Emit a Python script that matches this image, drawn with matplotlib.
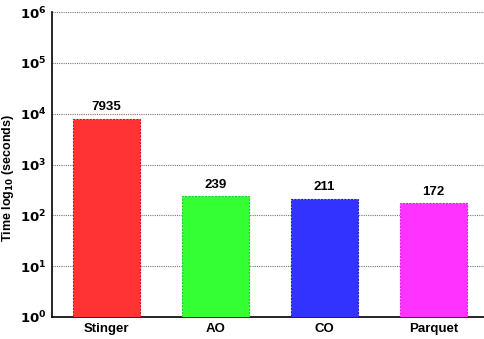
import matplotlib
matplotlib.use("Agg")
import matplotlib.pyplot as plt

systems = ["Stinger", "AO", "CO", "Parquet"]
times = [7935, 239, 211, 172]
colors = ["#ff3333", "#33ff33", "#3333ff", "#ff33ff"]
edges = ["#e01010", "#20d020", "#2020d0", "#e020e0"]

plt.rcParams["font.family"] = ["Liberation Sans", "DejaVu Sans"]
plt.rcParams["font.weight"] = "bold"

fig = plt.figure(figsize=(4.85, 3.39), dpi=100)
ax = fig.add_axes([52 / 485, 22 / 339, 433 / 485, 305 / 339])

x = range(len(systems))
bars = ax.bar(x, times, width=0.61, color=colors, edgecolor=edges,
              linewidth=0.8, linestyle=(0, (2, 1)), zorder=3)
for xi, v in zip(x, times):
    ax.annotate(f"{v}", (xi, v), xytext=(0, 4), textcoords="offset points",
                ha="center", va="bottom", fontsize=9.5, fontweight="bold")

ax.set_yscale("log")
ax.set_ylim(1, 1e6)
ax.set_xlim(-0.5, 3.47)
ax.set_yticks([10 ** i for i in range(7)])
ax.set_yticklabels([f"$\\mathbf{{10^{{{i}}}}}$" for i in range(7)])
ax.minorticks_off()
ax.set_xticks(list(x))
ax.set_xticklabels(systems, fontsize=9.5, fontweight="bold")
ax.tick_params(axis="both", length=0, labelsize=9.5, pad=4)
ax.grid(axis="y", linestyle=(0, (1, 1)), color="#777777", linewidth=0.8, zorder=0)
ax.set_ylabel("Time log$_{\\mathbf{10}}$ (seconds)", fontsize=9, fontweight="bold")
ax.yaxis.set_label_coords(-0.082, 0.455)

for s in ["top", "right"]:
    ax.spines[s].set_visible(False)
ax.spines["left"].set_linewidth(1.2)
ax.spines["bottom"].set_linewidth(1.2)

fig.savefig("out.png", dpi=100)
